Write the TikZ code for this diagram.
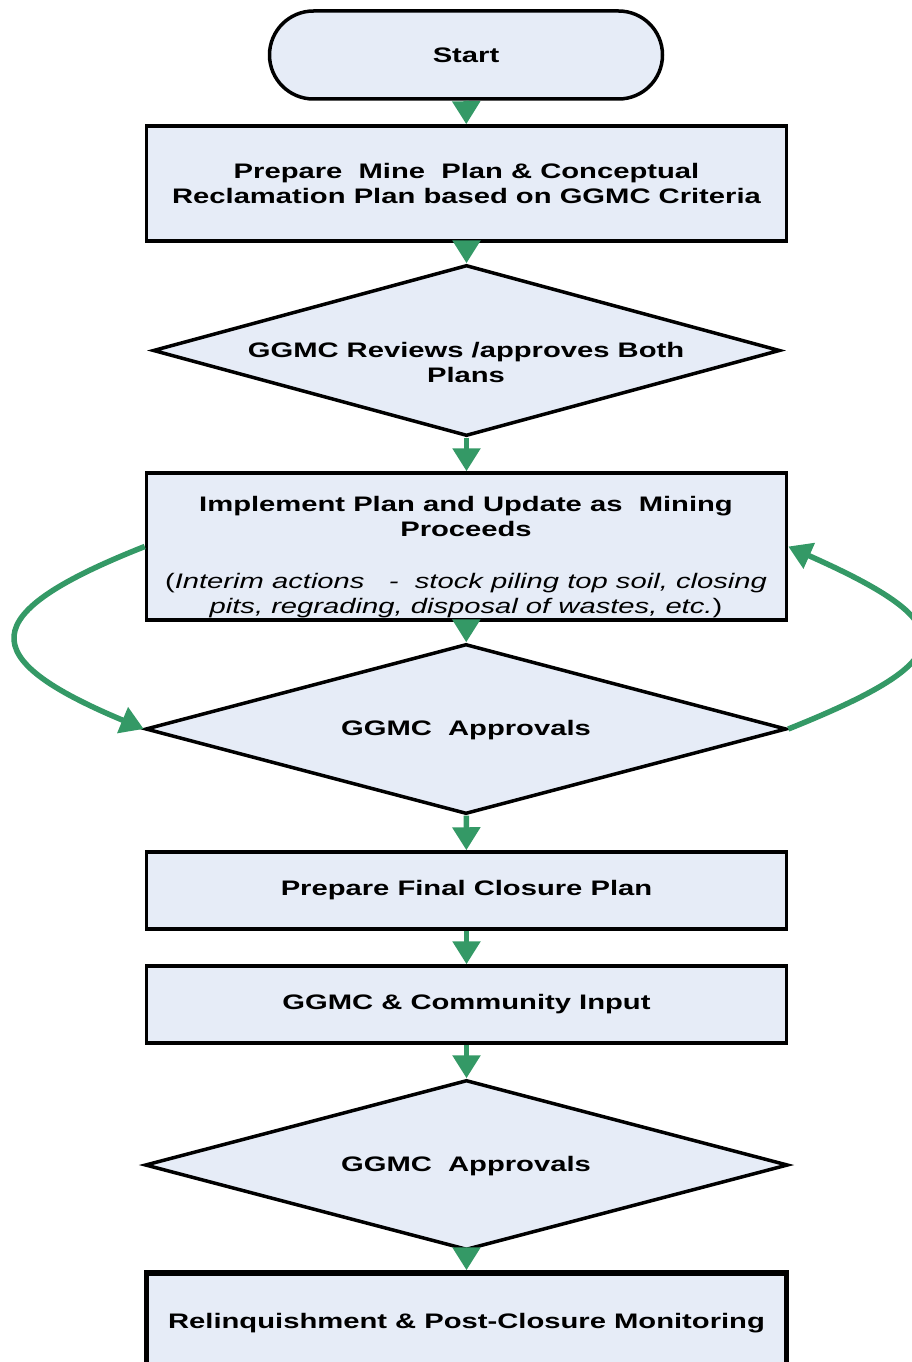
\documentclass[tikz,border=0pt]{standalone}
\usepackage{fontspec}
\setmainfont{Liberation Sans}[FakeStretch=1.39]
\usetikzlibrary{shapes.geometric,arrows.meta}
\definecolor{boxfill}{RGB}{230,236,247}
\definecolor{flowgreen}{RGB}{52,153,102}

\begin{document}
\begin{tikzpicture}[x=1pt,y=-1pt]
        \tikzset{texts/.style={font=\bfseries\fontsize{21}{25}\selectfont, align=center},
                 boxes/.style={texts, draw, fill=boxfill, line width=3.5pt, minimum width=640pt},
                 diamonds/.style={draw, diamond, fill=boxfill, line width=3.5pt, inner sep=0pt},
                 links/.style={draw=flowgreen, line width=5.5pt, -{Triangle[width=27pt,length=23pt]}}}
        \useasboundingbox (0,0) rectangle (912,1362);
        \node [boxes, minimum width=393pt, minimum height=88pt, rounded corners=44pt] (1) at (466,55) {Start};
        \node [boxes, minimum height=115pt] (2) at (466.5,183.5) {Prepare\ \ Mine\ \ Plan \& Conceptual\\Reclamation Plan based on GGMC Criteria};
        \node [diamonds, minimum width=627pt, minimum height=171pt] (3) at (466.5,350.5) {};
        \node [boxes, minimum height=147pt] (4) at (466.5,546.5) {};
        \node [diamonds, minimum width=641pt, minimum height=170pt] (5) at (466,729) {};
        \node [boxes, minimum height=77pt] (6) at (466.5,890.5) {Prepare Final Closure Plan};
        \node [boxes, minimum height=77pt] (7) at (466.5,1004.5) {GGMC \& Community Input};
        \node [diamonds, minimum width=643pt, minimum height=170pt] (8) at (466.5,1165) {};
        \node [boxes, minimum height=100pt, line width=5.5pt] (9) at (466.5,1323) {Relinquishment \& Post-Closure Monitoring};
        \node [texts] (3t) at (466,362) {GGMC Reviews /approves Both\\Plans};
        \node [texts] (4t) at (466,557) {Implement Plan and Update as\ \ Mining\\Proceeds\\[27pt]
              \textnormal{(\textit{Interim actions\ \ \ -\ \ stock piling top soil, closing}}\\
              \textnormal{\textit{pits, regrading, disposal of wastes, etc.})}};
        \node [texts] (5t) at (466,730) {GGMC\ \ Approvals};
        \node [texts] (8t) at (466,1166) {GGMC\ \ Approvals};
        \draw [links] (1) -- (2);
        \draw [links] (2) -- (3);
        \draw [links] (3) -- (4);
        \draw [links] (4) -- (5);
        \draw [links] (5) -- (6);
        \draw [links] (6) -- (7);
        \draw [links] (7) -- (8);
        \draw [links] (8) -- (9);
        \draw [links] (4.west) .. controls (-26,614) and (-26,658) .. (5.west);
        \draw [links] (5.east) .. controls (963,659) and (965,625) .. (4.east);
    \end{tikzpicture}
\end{document}
